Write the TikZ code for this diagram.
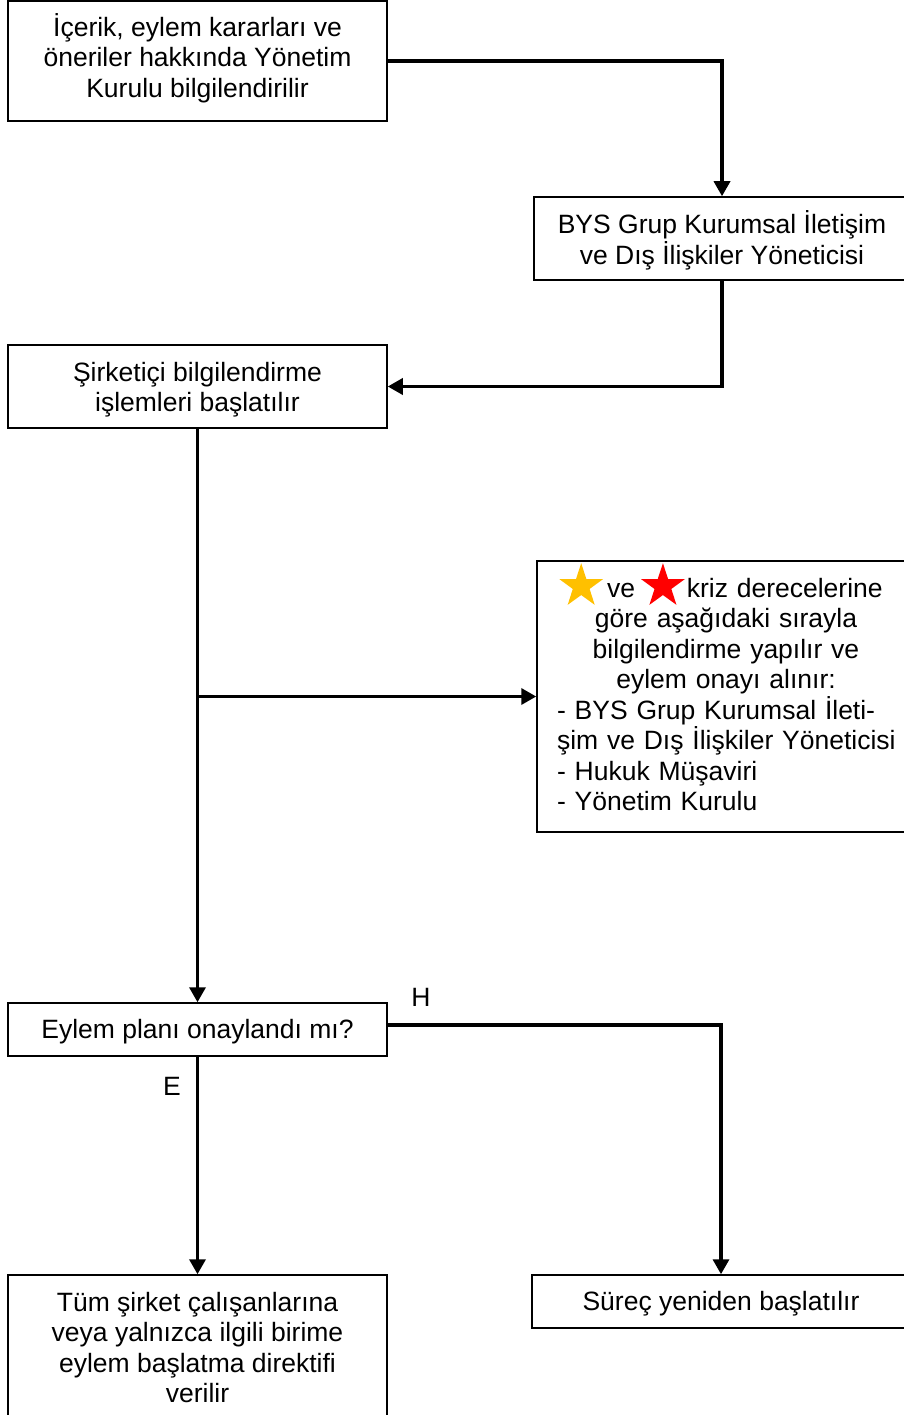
\documentclass[tikz,border=0pt]{standalone}
\usepackage{fontspec}
\setmainfont{Liberation Sans}
\usetikzlibrary{arrows.meta,shapes.geometric}
\definecolor{stargold}{HTML}{FFC000}
\definecolor{starred}{HTML}{FF0000}
\newcommand\mystar[1]{\smash{\tikz[baseline=-11pt]\node[star,star points=5,star point ratio=2.6,fill=#1,draw=none,minimum size=46pt,inner sep=0pt,outer sep=0pt]{};}}
\begin{document}
\begin{tikzpicture}[x=1pt,y=-1pt,
  box/.style={draw=black,line width=1.5pt,inner sep=0pt},
  txt/.style={inner sep=0pt,align=center,font=\fontsize{26.5}{30.5}\selectfont},
  conn/.style={line width=3.4pt,-{Triangle[length=15pt,width=16pt]}},
  lbl/.style={font=\fontsize{26.5}{30.5}\selectfont,inner sep=0pt}]
\useasboundingbox (0,0) rectangle (904,1415);
\clip (0,0) rectangle (904,1415);
% boxes
\node[box,minimum width=379pt,minimum height=120pt] (a) at (197.5,61) {};
\node[box,minimum width=376pt,minimum height=83pt] (b) at (722,238.5) {};
\node[box,minimum width=379pt,minimum height=83pt] (c) at (197.5,386.5) {};
\node[box,minimum width=373pt,minimum height=271pt] (d) at (723.5,696.5) {};
\node[box,minimum width=379pt,minimum height=53pt] (e) at (197.5,1029.5) {};
\node[box,minimum width=379pt,minimum height=145pt] (f) at (197.5,1347.5) {};
\node[box,minimum width=378pt,minimum height=53pt] (g) at (721,1301.5) {};
% texts
\node[txt,yshift=3pt] (ta) at (a.center) {İçerik, eylem kararları ve\\öneriler hakkında Yönetim\\Kurulu bilgilendirilir};
\node[txt,yshift=-2pt] (tb) at (b.center) {BYS Grup Kurumsal İletişim\\ve Dış İlişkiler Yöneticisi};
\node[txt,yshift=-3pt] (tc) at (c.center) {Şirketiçi bilgilendirme\\işlemleri başlatılır};
\node[inner sep=0pt,font=\fontsize{26.5}{30.5}\selectfont,text width=373pt,yshift=2pt] (td) at (d.center) {{\leftskip=5pt plus 1fil\rightskip=0pt plus 1fil\parfillskip=0pt \mystar{stargold}\hspace{4pt}ve\hspace{6pt}\mystar{starred}\hspace{2pt}kriz derecelerine\hspace{10pt}\mbox{}\\göre aşağıdaki sırayla\\bilgilendirme yapılır ve\\eylem onayı alınır:\par}{\leftskip=20pt\rightskip=0pt plus 1fil\parfillskip=0pt plus 1fil - BYS Grup Kurumsal İleti-\\şim ve Dış İlişkiler Yöneticisi\\- Hukuk Müşaviri\\- Yönetim Kurulu\par}};
\node[txt,yshift=-2pt] (te) at (e.center) {Eylem planı onaylandı mı?};
\node[txt] (tf) at (f.center) {Tüm şirket çalışanlarına\\veya yalnızca ilgili birime\\eylem başlatma direktifi\\verilir};
\node[txt,yshift=-2pt] (tg) at (g.center) {Süreç yeniden başlatılır};
\node[lbl] (h) at (421,997) {H};
\node[lbl] (ev) at (172,1086) {E};
% connectors
\draw[conn] (a.east) -| (b.north);
\draw[conn] (b.south) |- (c.east);
\draw[conn] (c.south) -- (e.north);
\draw[conn] (c.south |- d.west) -- (d.west);
\draw[conn] ([yshift=4.5pt]e.east) -| (g.north);
\draw[conn] (e.south) -- (f.north);
\end{tikzpicture}
\end{document}
